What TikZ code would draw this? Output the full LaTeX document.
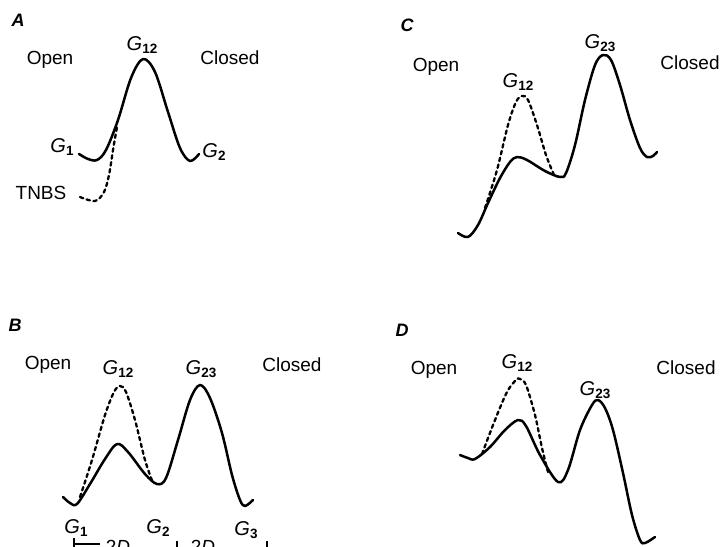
\documentclass[tikz,border=0pt]{standalone}
\usepackage{fontspec}
\setmainfont{Liberation Sans}
\begin{document}
\begin{tikzpicture}[x=1pt,y=-1pt,
  curve/.style={line width=2.5pt,line cap=round,line join=round},
  barrier/.style={line width=2.3pt,line cap=round,dash pattern=on 3.5pt off 3.5pt},
  lbl/.style={font=\fontsize{19}{22}\selectfont,inner sep=0pt},
  panel/.style={font=\fontsize{18}{20}\selectfont\bfseries\itshape,inner sep=0pt},
  glbl/.style={font=\fontsize{20}{22}\selectfont,inner sep=0pt}]
\newcommand{\Gsub}[1]{\textit{G}\raisebox{-0.35ex}{\fontsize{13.5}{15}\selectfont\bfseries #1}}
\useasboundingbox (0,0) rectangle (722,546);

% ---------- A ----------
\node[panel] (pA) at (18,20) {A};
\node[lbl] (openA) at (50,60) {Open};
\node[lbl] (closedA) at (230,58) {Closed};
\node[glbl] (gA12) at (142,45) {\Gsub{12}};
\node[glbl] (gA1) at (62,147) {\Gsub{1}};
\node[glbl] (gA2) at (214,152) {\Gsub{2}};
\node[lbl] (tnbs) at (41,193) {TNBS};
\draw[curve] plot[smooth,tension=0.55] coordinates {(79,154) (88,159) (97,160) (106,150) (118,120) (131,78) (143,59) (155,72) (168,112) (180,148) (190,161) (199,154)};
\draw[barrier] plot[smooth,tension=0.55] coordinates {(80,197) (95,201) (104,192) (109,175) (113,150) (117,127)};

% ---------- B ----------
\node[panel] (pB) at (15,325) {B};
\node[lbl] (openB) at (48,365) {Open};
\node[lbl] (closedB) at (292,365) {Closed};
\node[glbl] (gB12) at (118,369) {\Gsub{12}};
\node[glbl] (gB23) at (201,369) {\Gsub{23}};
\node[glbl] (gB1) at (76,528) {\Gsub{1}};
\node[glbl] (gB2) at (158,528) {\Gsub{2}};
\node[glbl] (gB3) at (246,530) {\Gsub{3}};
\draw[curve] plot[smooth,tension=0.55] coordinates {(63,497) (70,503) (77,504) (90,484) (105,459) (117,444) (128,452) (145,474) (157,484) (166,478) (178,440) (190,400) (200,385) (210,398) (222,433) (232,475) (240,500) (245,506) (253,500)};
\draw[barrier] plot[smooth,tension=0.55] coordinates {(80,497) (92,460) (105,415) (114,392) (120,386) (126,392) (135,420) (145,460) (153,483)};
% spacing scale under the profile
\coordinate (t1) at (74,538);
\coordinate (t2) at (177,541);
\coordinate (t3) at (267,541);
\draw[line width=1.8pt] (t1) -- ++(0,20) (t1) ++(0,6) -- ++(26,0);
\draw[line width=1.8pt] (t2) -- ++(0,20);
\draw[line width=1.8pt] (t3) -- ++(0,20);
\node[lbl,anchor=north] (d1) at (118,540.5) {2\textit{D}};
\node[lbl,anchor=north] (d2) at (203,540.5) {2\textit{D}};

% ---------- C ----------
\node[panel] (pC) at (407,25) {C};
\node[lbl] (openC) at (436,67) {Open};
\node[lbl] (closedC) at (690,63) {Closed};
\node[glbl] (gC12) at (518,82) {\Gsub{12}};
\node[glbl] (gC23) at (600,43) {\Gsub{23}};
\draw[curve] plot[smooth,tension=0.55] coordinates {(458,233) (468,237) (478,225) (488,203) (500,178) (510,162) (517,157) (527,160) (545,171) (560,177) (566,173) (575,145) (585,100) (595,65) (603,55) (611,60) (620,85) (630,120) (640,148) (647,157) (653,156) (657,152)};
\draw[barrier] plot[smooth,tension=0.55] coordinates {(485,208) (497,170) (508,125) (516,102) (522,96) (528,100) (537,125) (546,155) (554,175)};

% ---------- D ----------
\node[panel] (pD) at (402,330) {D};
\node[lbl] (openD) at (434,370) {Open};
\node[lbl] (closedD) at (686,368) {Closed};
\node[glbl] (gD12) at (517,363) {\Gsub{12}};
\node[glbl] (gD23) at (595,390) {\Gsub{23}};
\draw[curve] plot[smooth,tension=0.55] coordinates {(460,455) (468,458) (475,459) (490,447) (505,430) (518,420) (526,426) (540,455) (558,482) (568,470) (580,430) (592,405) (598,400) (605,408) (613,430) (623,473) (632,515) (640,540) (645,543) (655,537)};
\draw[barrier] plot[smooth,tension=0.55] coordinates {(482,454) (495,420) (507,392) (516,380) (520,379) (526,385) (535,415) (542,448) (548,472)};
\end{tikzpicture}
\end{document}
